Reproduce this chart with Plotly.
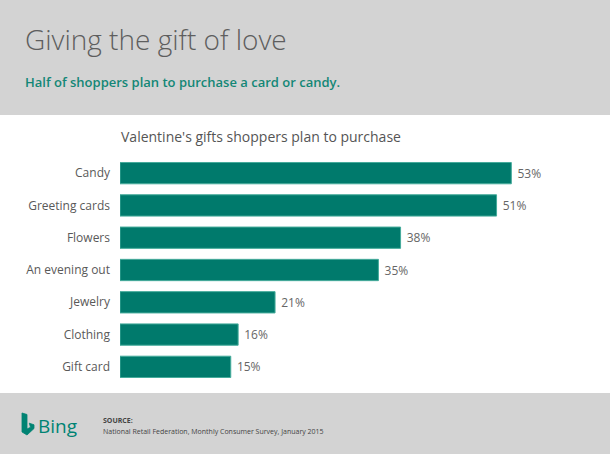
import plotly.graph_objects as go

categories = ["Candy", "Greeting cards", "Flowers", "An evening out", "Jewelry", "Clothing", "Gift card"]
values = [53, 51, 38, 35, 21, 16, 15]

W, H = 610, 454
ML, MR, MT, MB = 120, 47, 157, 71
PW, PH = W - ML - MR, H - MT - MB

def X(px):
    return (px - ML) / PW

def Y(py):
    return (H - MB - py) / PH

TEAL = "#007A6C"
GRAY_BG = "#D3D3D3"
FONT = "Open Sans"

fig = go.Figure()
fig.add_trace(go.Bar(
    y=categories,
    x=values,
    orientation="h",
    marker=dict(color=TEAL, line=dict(color="#45ab9b", width=1)),
    text=[f" {v}%" for v in values],
    textposition="outside",
    textfont=dict(family=FONT, size=12, color="#666666"),
    cliponaxis=False,
    hoverinfo="skip",
))

shapes = [
    dict(type="rect", xref="paper", yref="paper", x0=X(0), x1=X(W), y0=Y(393), y1=Y(115),
         fillcolor="white", line=dict(width=0), layer="below"),
]
icon = [(22, 413), (27, 414.5), (27, 429), (30.5, 427.3), (29.3, 423.2), (34, 424.8),
        (34, 428.5), (27, 435), (22, 432)]
path = "M" + " L".join(f"{X(a):.5f},{Y(b):.5f}" for a, b in icon) + " Z"
shapes.append(dict(type="path", xref="paper", yref="paper", path=path,
                   fillcolor="#008373", line=dict(color="#008373", width=0.8)))

annotations = [
    dict(text="Giving the gift of love", x=X(23), y=Y(39), xref="paper", yref="paper",
         xanchor="left", yanchor="middle", showarrow=False,
         font=dict(family=FONT, size=28, color="#5e5e5e", weight=300)),
    dict(text="Half of shoppers plan to purchase a card or candy.", x=X(23), y=Y(82),
         xref="paper", yref="paper", xanchor="left", yanchor="middle", showarrow=False,
         font=dict(family=FONT, size=13, color="#138776", weight=600)),
    dict(text="Valentine's gifts shoppers plan to purchase", x=X(261), y=Y(136),
         xref="paper", yref="paper", xanchor="center", yanchor="middle", showarrow=False,
         font=dict(family=FONT, size=14, color="#555555")),
    dict(text="Bing", x=X(36), y=Y(426), xref="paper", yref="paper",
         xanchor="left", yanchor="middle", showarrow=False,
         font=dict(family=FONT, size=19, color="#008373")),
    dict(text="<b>SOURCE:</b>", x=X(101), y=Y(420), xref="paper", yref="paper",
         xanchor="left", yanchor="middle", showarrow=False,
         font=dict(family=FONT, size=7, color="#444444")),
    dict(text="National Retail Federation, Monthly Consumer Survey, January 2015", x=X(101), y=Y(431),
         xref="paper", yref="paper", xanchor="left", yanchor="middle", showarrow=False,
         font=dict(family=FONT, size=7, color="#444444")),
]

fig.update_layout(
    width=W, height=H,
    margin=dict(l=ML, r=MR, t=MT, b=MB),
    paper_bgcolor=GRAY_BG,
    plot_bgcolor="white",
    bargap=0.34,
    showlegend=False,
    shapes=shapes,
    annotations=annotations,
    xaxis=dict(range=[0, 60], visible=False, fixedrange=True),
    yaxis=dict(categoryorder="array", categoryarray=categories, autorange="reversed",
               showgrid=False, zeroline=False, showline=False, ticks="",
               ticklabelstandoff=9,
               tickfont=dict(family=FONT, size=12, color="#595959")),
)

fig.write_html("out.html")
